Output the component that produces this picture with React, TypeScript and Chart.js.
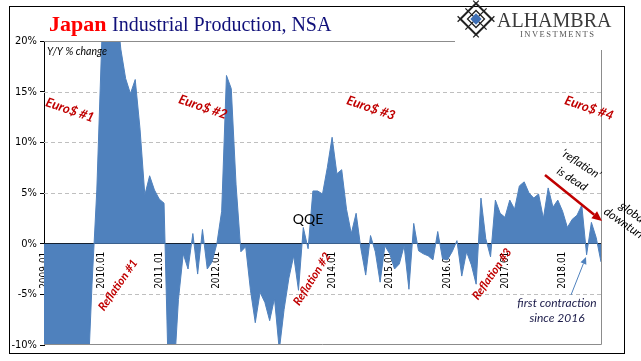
import React, { useEffect, useRef } from 'react';
import { Chart, registerables } from 'chart.js';

Chart.register(...registerables);

// ---------- data ----------
const years = ['2009', '2010', '2011', '2012', '2013', '2014', '2015', '2016', '2017', '2018'];
const monthCodes = ['01', '02', '03', '04', '05', '06', '07', '08', '09', '10', '11', '12'];

const ip2009 = [-30.8, -38.4, -34.2, -31.2, -29.5, -23.5, -22.1, -18.7, -18.4, -15.1, -4.0, 5.3];
const ip2010 = [19.5, 31.3, 31.0, 24.0, 19.2, 16.3, 14.8, 16.2, 11.3, 4.8, 6.7, 5.3];
const ip2011 = [4.4, 4.0, -15.0, -13.5, -5.5, -1.0, -2.5, 1.0, -3.0, 1.4, -2.5, -1.8];
const ip2012 = [0.0, 3.2, 16.6, 15.3, 5.8, -0.8, -0.3, -4.6, -7.8, -4.8, -5.8, -7.6];
const ip2013 = [-5.4, -10.5, -6.5, -3.4, -1.2, -4.6, 1.6, -0.5, 5.2, 5.2, 4.9, 7.5];
const ip2014 = [10.5, 6.9, 7.3, 3.4, 1.0, 3.0, -0.5, -3.1, 0.8, -0.8, -3.8, -0.2];
const ip2015 = [-1.0, -2.5, -2.0, -0.2, -4.5, 2.0, -0.7, -1.0, -1.2, -1.6, 1.2, -1.5];
const ip2016 = [-1.6, -0.8, 0.3, -3.2, -0.8, -2.1, -4.0, 4.5, 0.5, -1.3, 4.3, 3.0];
const ip2017 = [2.6, 4.3, 3.4, 5.7, 6.1, 5.0, 4.5, 4.9, 2.5, 5.5, 3.6, 4.3];
const ip2018 = [3.2, 1.6, 2.4, 2.8, 3.8, -1.1, 2.1, 0.6, -1.8];

const seriesByYear = [ip2009, ip2010, ip2011, ip2012, ip2013, ip2014, ip2015, ip2016, ip2017, ip2018];

const labels: string[] = [];
const values: number[] = [];
seriesByYear.forEach((arr, yi) =>
  arr.forEach((v, mi) => {
    labels.push(years[yi] + '.' + monthCodes[mi]);
    values.push(v);
  })
);

const yTickValues = [-10, -5, 0, 5, 10, 15, 20];
const dashedGridValues = [-5, 5, 10, 15];

// ---------- styling ----------
const NARROW = '"Liberation Sans Narrow", "DejaVu Sans Condensed", "Liberation Sans", sans-serif';
const ANN = 'Lato, "Open Sans", sans-serif';
const SERIF = '"Liberation Serif", "DejaVu Serif", serif';
const RED = '#C00000';
const BLUE = '#4F81BD';

function rotText(ctx: CanvasRenderingContext2D, text: string, x: number, y: number, deg: number, font: string, color: string, align: CanvasTextAlign = 'center') {
  ctx.save();
  ctx.translate(x, y);
  ctx.rotate((deg * Math.PI) / 180);
  ctx.font = font;
  ctx.fillStyle = color;
  ctx.textAlign = align;
  ctx.textBaseline = 'middle';
  ctx.fillText(text, 0, 0);
  ctx.restore();
}

function arrow(ctx: CanvasRenderingContext2D, x1: number, y1: number, x2: number, y2: number, color: string, width: number, head: number) {
  const ang = Math.atan2(y2 - y1, x2 - x1);
  const bx = x2 - head * Math.cos(ang);
  const by = y2 - head * Math.sin(ang);
  const w = head * 0.45;
  ctx.save();
  ctx.strokeStyle = color;
  ctx.fillStyle = color;
  ctx.lineWidth = width;
  ctx.beginPath();
  ctx.moveTo(x1, y1);
  ctx.lineTo(bx, by);
  ctx.stroke();
  ctx.beginPath();
  ctx.moveTo(x2, y2);
  ctx.lineTo(bx + w * Math.sin(ang), by - w * Math.cos(ang));
  ctx.lineTo(bx - w * Math.sin(ang), by + w * Math.cos(ang));
  ctx.closePath();
  ctx.fill();
  ctx.restore();
}

function drawLogo(ctx: CanvasRenderingContext2D) {
  ctx.save();
  ctx.translate(476, 19);
  ctx.rotate(Math.PI / 4);
  ctx.strokeStyle = '#222';
  ctx.lineWidth = 2;
  ctx.strokeRect(-11, -11, 22, 22);
  ctx.lineWidth = 1.3;
  ctx.strokeRect(-6, -6, 12, 12);
  ctx.beginPath();
  for (const k of [-11, 0, 11]) {
    ctx.moveTo(k, -15);
    ctx.lineTo(k, 15);
    ctx.moveTo(-15, k);
    ctx.lineTo(15, k);
  }
  ctx.stroke();
  ctx.fillStyle = '#3E6FB5';
  ctx.fillRect(-4, -4, 8, 8);
  ctx.restore();
  ctx.save();
  ctx.rotate(0);
  ctx.restore();

  ctx.save();
  ctx.fillStyle = '#3a3a3a';
  ctx.font = '20px ' + SERIF;
  ctx.textBaseline = 'alphabetic';
  ctx.textAlign = 'left';
  ctx.fillText('ALHAMBRA', 497, 27);
  ctx.font = '8.5px ' + SERIF;
  (ctx as any).letterSpacing = '1.5px';
  ctx.fillStyle = '#555';
  ctx.fillText('INVESTMENTS', 520, 37);
  (ctx as any).letterSpacing = '0px';
  ctx.restore();
}

const decorPlugin = {
  id: 'decor',
  beforeDatasetsDraw(chart: any) {
    const { ctx, chartArea: a, scales } = chart;
    const ys = scales.y;
    ctx.save();
    ctx.strokeStyle = '#BFBFBF';
    ctx.lineWidth = 1;
    ctx.setLineDash([4, 3]);
    dashedGridValues.forEach((v) => {
      const py = Math.round(ys.getPixelForValue(v)) + 0.5;
      ctx.beginPath();
      ctx.moveTo(a.left, py);
      ctx.lineTo(a.right, py);
      ctx.stroke();
    });
    ctx.restore();
  },
  afterDraw(chart: any) {
    const { ctx, chartArea: a, scales } = chart;
    const ys = scales.y;
    const topY = Math.round(ys.getPixelForValue(20)) + 0.5;
    const botY = Math.round(ys.getPixelForValue(-10)) - 0.5;
    const rx = Math.round(a.right) + 0.5;

    ctx.save();
    // gray frame
    ctx.strokeStyle = '#8C8C8C';
    ctx.lineWidth = 1;
    ctx.beginPath();
    ctx.moveTo(a.left, topY);
    ctx.lineTo(455, topY);
    ctx.moveTo(a.left, botY);
    ctx.lineTo(rx, botY);
    ctx.moveTo(rx, 50);
    ctx.lineTo(rx, botY);
    ctx.stroke();
    // outer black border
    ctx.strokeStyle = '#000';
    ctx.strokeRect(9.5, 6.5, 615, 347);
    ctx.restore();

    // title
    ctx.save();
    ctx.textBaseline = 'alphabetic';
    ctx.textAlign = 'left';
    ctx.font = 'bold 22px ' + SERIF;
    ctx.fillStyle = '#FF0000';
    ctx.fillText('Japan', 49, 31);
    const w = ctx.measureText('Japan ').width;
    ctx.font = '20px ' + SERIF;
    ctx.fillStyle = '#10107A';
    ctx.fillText('Industrial Production, NSA', 49 + w, 31);
    ctx.restore();

    drawLogo(ctx);

    // axis note
    rotText(ctx, 'Y/Y % change', 47, 52, 0, 'italic 10.5px ' + ANN, '#000', 'left');

    // Euro$ labels
    const euroFont = 'italic bold 13px ' + ANN;
    rotText(ctx, 'Euro$ #1', 70, 110, 19, euroFont, RED);
    rotText(ctx, 'Euro$ #2', 203, 107, 19, euroFont, RED);
    rotText(ctx, 'Euro$ #3', 371, 108, 19, euroFont, RED);
    rotText(ctx, 'Euro$ #4', 589, 108, 19, euroFont, RED);

    // Reflation labels
    const refFont = 'italic bold 11.5px ' + ANN;
    rotText(ctx, 'Reflation #1', 118, 285, -55, refFont, RED);
    rotText(ctx, 'Reflation #2', 312, 279, -58, refFont, RED);
    rotText(ctx, 'Reflation #3', 492, 274, -55, refFont, RED);

    // QQE
    rotText(ctx, 'QQE', 308, 219, 0, '14px ' + ANN, '#000');

    // reflation is dead
    const noteFont = 'italic 11.5px ' + ANN;
    rotText(ctx, '\u2018reflation\u2019', 581, 164, 33, noteFont, '#000');
    rotText(ctx, 'is dead', 572, 179, 33, noteFont, '#000');
    arrow(ctx, 545, 175, 602, 221, RED, 2.5, 10);

    // global downturn
    const gFont = 'italic 12px ' + ANN;
    rotText(ctx, 'global', 633, 213, 35, gFont, '#000');
    rotText(ctx, 'downturn', 625, 224, 35, gFont, '#000');

    // first contraction
    rotText(ctx, 'first contraction', 557, 303, 0, 'italic 12px ' + ANN, '#1c1c4a');
    rotText(ctx, 'since 2016', 557, 318, 0, 'italic 12px ' + ANN, '#1c1c4a');
    arrow(ctx, 571, 295, 586, 257, BLUE, 1, 7);
  },
};

export default function App() {
  const ref = useRef<HTMLCanvasElement>(null);

  useEffect(() => {
    if (!ref.current) return;
    const chart = new Chart(ref.current, {
      type: 'line',
      data: {
        labels,
        datasets: [
          {
            data: values,
            fill: 'origin',
            backgroundColor: BLUE,
            borderColor: BLUE,
            borderWidth: 1,
            pointRadius: 0,
            tension: 0,
            clip: 0,
          } as any,
        ],
      },
      options: {
        responsive: false,
        animation: false,
        events: [],
        layout: { padding: { left: 0, top: 41, right: 40, bottom: 16 } },
        plugins: {
          legend: { display: false },
          tooltip: { enabled: false },
          title: { display: false },
        },
        scales: {
          x: {
            type: 'category',
            position: { y: 0 } as any,
            offset: false,
            z: 1,
            grid: {
              drawOnChartArea: false,
              drawTicks: true,
              tickLength: 4,
              color: (c: any) => (c.index % 12 === 0 ? '#000' : 'rgba(0,0,0,0)'),
              tickColor: (c: any) => (c.index % 12 === 0 ? '#000' : 'rgba(0,0,0,0)'),
            },
            border: { display: true, color: '#000', width: 1 },
            ticks: {
              autoSkip: false,
              minRotation: 90,
              maxRotation: 90,
              padding: 4,
              color: '#000',
              font: { family: NARROW, size: 10 },
              callback: (_v: any, i: number) => (i % 12 === 0 ? labels[i] : null),
            },
            afterFit: (s: any) => {
              s.paddingLeft = 0;
              s.paddingRight = 0;
            },
          } as any,
          y: {
            type: 'linear',
            position: 'left',
            min: -10,
            max: 20,
            z: 1,
            afterBuildTicks: (s: any) => {
              s.ticks = yTickValues.map((v) => ({ value: v }));
            },
            afterFit: (s: any) => {
              s.width = 44;
            },
            grid: { drawOnChartArea: false, drawTicks: true, tickLength: 4, color: '#000' },
            border: { display: true, color: '#000', width: 1 },
            ticks: {
              color: '#000',
              padding: 3,
              font: { family: NARROW, size: 11 },
              callback: (v: any) => v + '%',
            },
          } as any,
        },
      },
      plugins: [decorPlugin],
    });
    return () => chart.destroy();
  }, []);

  return (
    <div style={{ position: 'absolute', left: 0, top: 0, width: 641, height: 361, background: '#fff', overflow: 'hidden' }}>
      <canvas ref={ref} width={641} height={361} style={{ display: 'block', width: 641, height: 361 }} />
    </div>
  );
}
